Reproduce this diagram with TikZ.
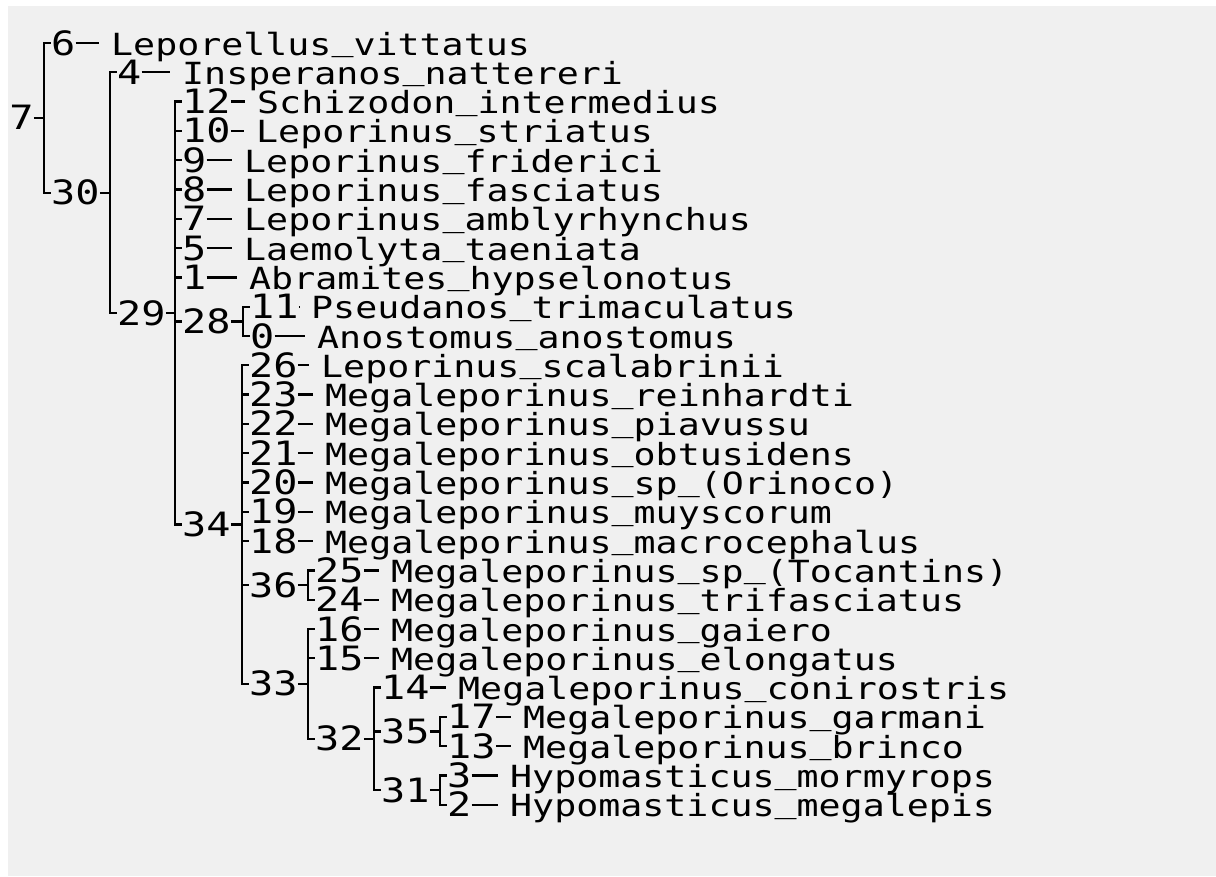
\documentclass[tikz,border=0pt]{standalone}
\usepackage{fontspec}
\newfontfamily\treemono[FakeStretch=1.2]{DejaVu Sans Mono}
\newcommand\labfont{\treemono\fontsize{33.5}{40}\selectfont}
\newcommand\namefont{\treemono\fontsize{30.5}{36}\selectfont}
\newcommand\usc{\raisebox{4.5pt}{\_}}
\definecolor{bggray}{RGB}{240,240,240}
\tikzset{
  lab/.style={font=\labfont, inner sep=0pt, anchor=base west},
  nm/.style={font=\namefont, inner sep=0pt, anchor=base west},
  br/.style={line width=2.3pt, black},
  vbr/.style={line width=2.3pt, black, line cap=rect}
}
\newcommand\leafnode[6]{%
  \coordinate (a#1) at (#2,#3);
  \node[lab] (l#1) at (#2+7,#3+12) {#4};
  \node[nm] (n#1) at (#5,#3+12) {#6};
  \draw[br] (a#1) -- (a#1 -| l#1.west);
  \draw[br, shorten >=12pt] (l#1.east |- a#1) -- (a#1 -| n#1.west);
}
\newcommand\innode[5]{%
  \coordinate (a#1) at (#2,#3);
  \coordinate (c#1) at (#5,#3);
  \node[lab] (i#1) at (#2+7,#3+12) {#4};
  \draw[br] (a#1) -- (a#1 -| i#1.west);
  \draw[br] (i#1.east |- a#1) -- (c#1);
}
\begin{document}
\begin{tikzpicture}[x=1pt, y=-1pt]
\useasboundingbox (0,0) rectangle (1216,876);
\fill[white] (0,0) rectangle (1216,876);
\fill[bggray] (8,6) rectangle (1216,876);
\begin{scope}
\clip (8,6) rectangle (1216,876);
% root 27
\innode{27}{-22}{117.85}{27}{44}
% children of 27 (V=44)
\leafnode{6}{44}{43}{6}{111}{Leporellus\usc vittatus}
\innode{30}{44}{192.7}{30}{110}
% children of 30 (V=110)
\leafnode{4}{110}{72.3}{4}{182}{Insperanos\usc nattereri}
\innode{29}{110}{313.11}{29}{175}
% children of 29 (V=175)
\leafnode{12}{175}{101.6}{12}{257}{Schizodon\usc intermedius}
\leafnode{10}{175}{130.9}{10}{256}{Leporinus\usc striatus}
\leafnode{9}{175}{160.2}{9}{244}{Leporinus\usc friderici}
\leafnode{8}{175}{189.5}{8}{244}{Leporinus\usc fasciatus}
\leafnode{7}{175}{218.8}{7}{244}{Leporinus\usc amblyrhynchus}
\leafnode{5}{175}{248.1}{5}{244}{Laemolyta\usc taeniata}
\leafnode{1}{175}{277.4}{1}{249}{Abramites\usc hypselonotus}
\innode{28}{175}{321.35}{28}{243}
\innode{34}{175}{524.62}{34}{242}
% children of 28 (V=243)
\leafnode{11}{243}{306.7}{11}{311}{Pseudanos\usc trimaculatus}
\leafnode{0}{243}{336.0}{0}{317}{Anostomus\usc anostomus}
% children of 34 (V=242)
\leafnode{26}{242}{365.3}{26}{321}{Leporinus\usc scalabrinii}
\leafnode{23}{242}{394.6}{23}{325}{Megaleporinus\usc reinhardti}
\leafnode{22}{242}{423.9}{22}{325}{Megaleporinus\usc piavussu}
\leafnode{21}{242}{453.2}{21}{325}{Megaleporinus\usc obtusidens}
\leafnode{20}{242}{482.5}{20}{325}{Megaleporinus\usc sp\usc (Orinoco)}
\leafnode{19}{242}{511.8}{19}{325}{Megaleporinus\usc muyscorum}
\leafnode{18}{242}{541.1}{18}{325}{Megaleporinus\usc macrocephalus}
\innode{36}{242}{585.05}{36}{308}
\innode{33}{242}{683.94}{33}{308}
% children of 36 (V=308)
\leafnode{25}{308}{570.4}{25}{391}{Megaleporinus\usc sp\usc (Tocantins)}
\leafnode{24}{308}{599.7}{24}{391}{Megaleporinus\usc trifasciatus}
% children of 33 (V=308)
\leafnode{16}{308}{629.0}{16}{391}{Megaleporinus\usc gaiero}
\leafnode{15}{308}{658.3}{15}{391}{Megaleporinus\usc elongatus}
\innode{32}{308}{738.875}{32}{374}
% children of 32 (V=374)
\leafnode{14}{374}{687.6}{14}{458}{Megaleporinus\usc conirostris}
\innode{35}{374}{731.55}{35}{440}
\innode{31}{374}{790.15}{31}{440}
% children of 35 (V=440)
\leafnode{17}{440}{716.9}{17}{523}{Megaleporinus\usc garmani}
\leafnode{13}{440}{746.2}{13}{523}{Megaleporinus\usc brinco}
% children of 31 (V=440)
\leafnode{3}{440}{775.5}{3}{510}{Hypomasticus\usc mormyrops}
\leafnode{2}{440}{804.8}{2}{510}{Hypomasticus\usc megalepis}
% verticals
\draw[vbr] (a6) -- (a30);
\draw[vbr] (a4) -- (a29);
\draw[vbr] (a12) -- (a34);
\draw[vbr] (a11) -- (a0);
\draw[vbr] (a26) -- (a33);
\draw[vbr] (a25) -- (a24);
\draw[vbr] (a16) -- (a32);
\draw[vbr] (a14) -- (a31);
\draw[vbr] (a17) -- (a13);
\draw[vbr] (a3) -- (a2);
\end{scope}
\end{tikzpicture}
\end{document}
